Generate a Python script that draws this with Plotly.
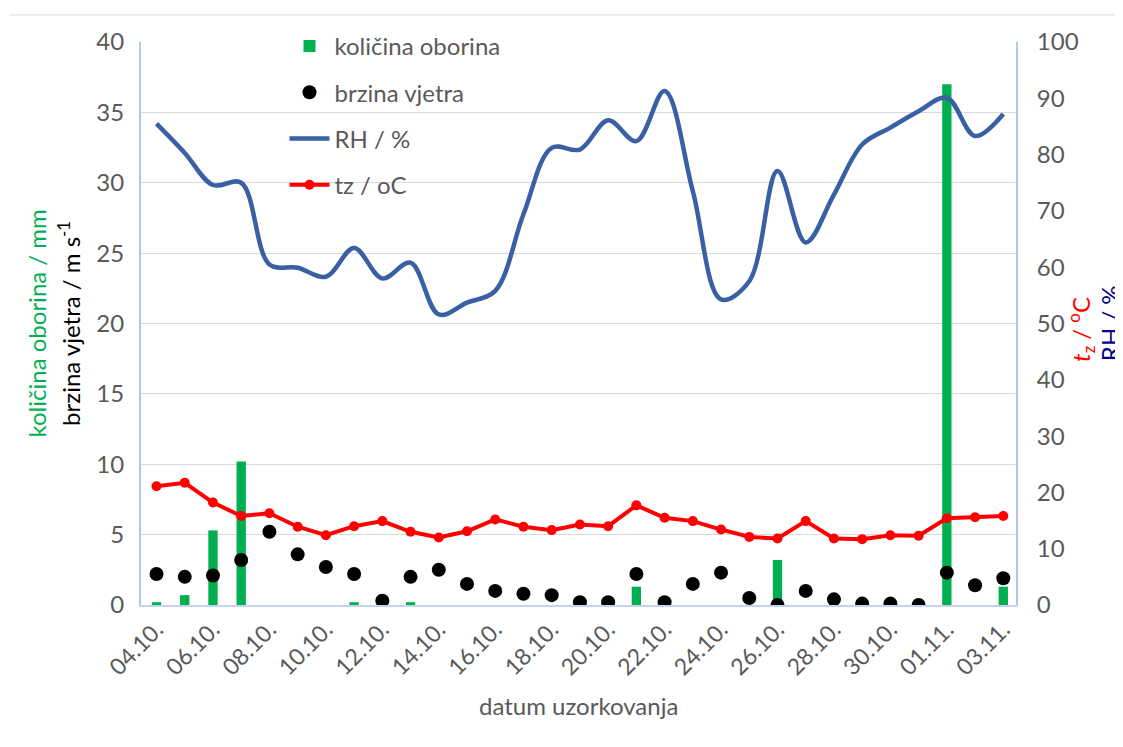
import plotly.graph_objects as go

# sampling dates (04.10. - 03.11.)
dates = ["04.10.", "05.10.", "06.10.", "07.10.", "08.10.", "09.10.", "10.10.", "11.10.",
         "12.10.", "13.10.", "14.10.", "15.10.", "16.10.", "17.10.", "18.10.", "19.10.",
         "20.10.", "21.10.", "22.10.", "23.10.", "24.10.", "25.10.", "26.10.", "27.10.",
         "28.10.", "29.10.", "30.10.", "31.10.", "01.11.", "02.11.", "03.11."]

# precipitation / mm
oborina = [0.2, 0.7, 5.3, 10.2, 0, 0, 0, 0.2, 0, 0.2, 0, 0, 0, 0, 0, 0,
           0, 1.3, 0, 0, 0, 0, 3.2, 0, 0, 0, 0, 0, 37.0, 0, 1.3]

# wind speed / m s-1
vjetar = [2.2, 2.0, 2.1, 3.2, 5.2, 3.6, 2.7, 2.2, 0.3, 2.0, 2.5, 1.5, 1.0, 0.8, 0.7, 0.2,
          0.2, 2.2, 0.2, 1.5, 2.3, 0.5, 0.0, 1.0, 0.4, 0.1, 0.1, 0.0, 2.3, 1.4, 1.9]

# relative humidity / %
rh = [85.5, 80.3, 74.6, 75.0, 60.5, 59.9, 58.3, 63.4, 58.0, 60.8, 51.6, 53.7, 55.8, 69.4, 81.2, 80.9,
      86.1, 82.4, 91.3, 73.5, 54.3, 57.5, 77.1, 64.4, 72.9, 81.8, 84.8, 87.7, 90.1, 83.3, 87.2]

# air temperature / oC
tz = [21.1, 21.7, 18.2, 15.8, 16.3, 13.9, 12.4, 14.0, 14.9, 13.0, 12.0, 13.1, 15.2, 13.9, 13.3, 14.3,
      14.0, 17.7, 15.5, 14.9, 13.4, 12.1, 11.8, 14.9, 11.8, 11.7, 12.4, 12.3, 15.4, 15.6, 15.8]

FONT = "Lato"
GREY = "#595959"

fig = go.Figure()

fig.add_trace(go.Bar(x=dates, y=oborina, name="količina oborina", width=0.33,
                     marker=dict(color="#00b050", line=dict(width=0)), legendgroup="a"))
fig.add_trace(go.Scatter(x=dates, y=vjetar, name="brzina vjetra", mode="markers",
                         marker=dict(color="black", size=14), legendgroup="b"))
fig.add_trace(go.Scatter(x=dates, y=rh, name="RH / %", mode="lines", yaxis="y2",
                         line=dict(color="#3a60a4", width=4.5, shape="spline", smoothing=1.0),
                         legendgroup="c"))
fig.add_trace(go.Scatter(x=dates, y=tz, name="tz / oC", mode="lines+markers", yaxis="y2",
                         line=dict(color="#ff0000", width=4), marker=dict(color="#ff0000", size=10),
                         legendgroup="d"))

fig.update_layout(
    width=1123, height=747,
    margin=dict(l=133, r=115, t=34, b=150),
    paper_bgcolor="white", plot_bgcolor="white",
    font=dict(family=FONT, size=24, color=GREY),
    showlegend=True,
    legend=dict(x=0.164, y=1.032, xanchor="left", yanchor="top", bgcolor="rgba(0,0,0,0)",
                font=dict(size=24, color=GREY), tracegroupgap=12, itemwidth=40),
    xaxis=dict(type="category", tickvals=dates[::2], ticktext=dates[::2], tickangle=-45,
               showline=True, linecolor="#c5d3ec", linewidth=2, showgrid=False,
               tickfont=dict(size=23, color=GREY), range=[-0.55, 30.45]),
    yaxis=dict(range=[0, 40], dtick=5, showline=True, linecolor="#b4c7e7", linewidth=2,
               gridcolor="#d9d9d9", gridwidth=1, zeroline=False, ticks="",
               tickfont=dict(size=24, color=GREY), ticklabelstandoff=10),
    yaxis2=dict(range=[0, 100], dtick=10, overlaying="y", side="right", showline=True,
                linecolor="#b4c7e7", linewidth=2, showgrid=False, zeroline=False,
                tickfont=dict(size=24, color=GREY), ticklabelstandoff=14),
)

# axis titles as annotations
fig.add_annotation(text="količina oborina / mm",
                   xref="paper", yref="paper", x=-0.12, y=0.5, textangle=-90,
                   xanchor="center", yanchor="middle",
                   showarrow=False, font=dict(size=24, color="#00b050"))
fig.add_annotation(text="brzina vjetra / m s<sup>-1</sup>",
                   xref="paper", yref="paper", x=-0.083, y=0.5, textangle=-90,
                   xanchor="center", yanchor="middle",
                   showarrow=False, font=dict(size=24, color="black"))
fig.add_annotation(text="<i>t</i><sub>z</sub> / <sup>o</sup>C",
                   xref="paper", yref="paper", x=1.074, y=0.49, textangle=-90,
                   xanchor="center", yanchor="middle",
                   showarrow=False, font=dict(size=24, color="#ff0000"))
fig.add_annotation(text="RH / %",
                   xref="paper", yref="paper", x=1.107, y=0.5, textangle=-90,
                   xanchor="center", yanchor="middle",
                   showarrow=False, font=dict(size=24, color="#00008b"))
fig.add_annotation(text="datum uzorkovanja", xref="paper", yref="paper", x=0.5, y=-0.178,
                   xanchor="center", yanchor="middle",
                   showarrow=False, font=dict(size=24, color=GREY))

# thin frame line at the top of the picture
fig.add_shape(type="line", xref="paper", yref="paper", x0=-0.15, x1=1.14, y0=1.048, y1=1.048,
              line=dict(color="#d9d9d9", width=1))

fig.write_html("out.html")
